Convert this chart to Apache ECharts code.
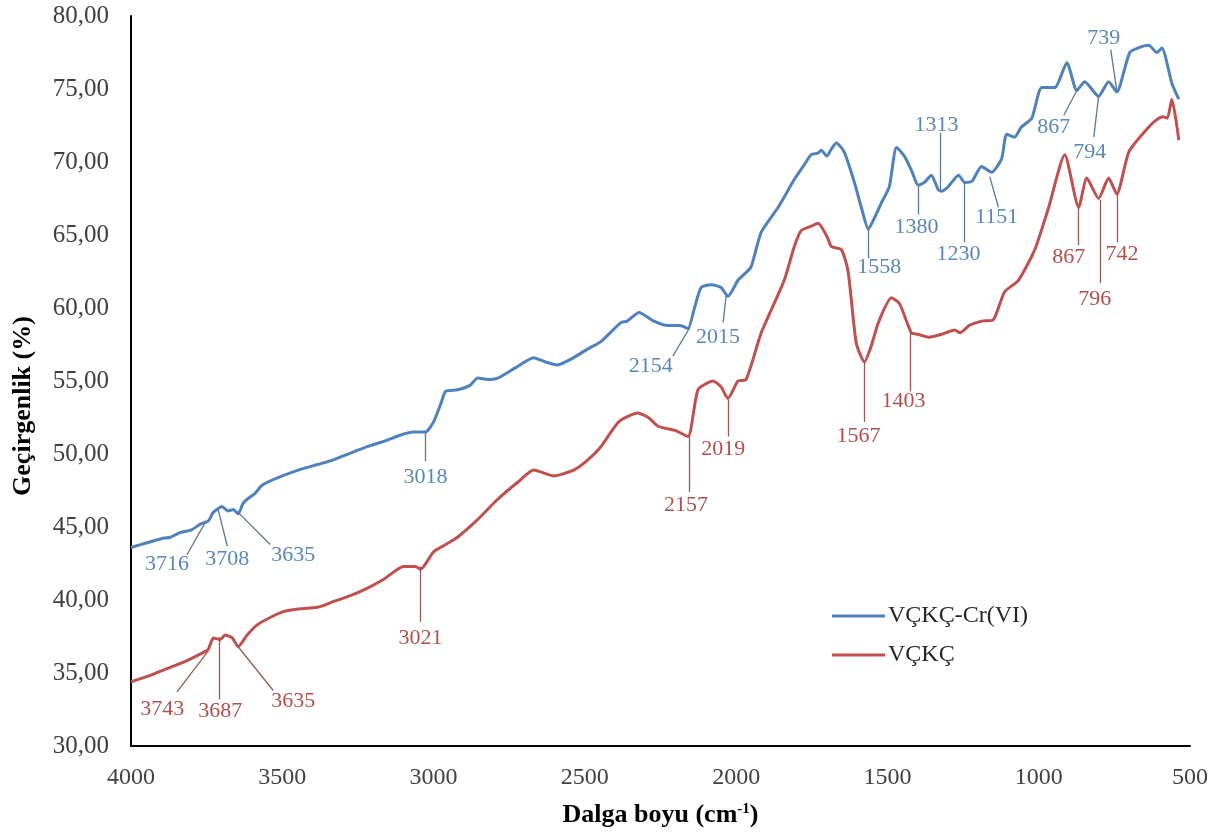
<!DOCTYPE html>
<html>
<head>
<meta charset="utf-8">
<script src="https://cdn.jsdelivr.net/npm/echarts@6/dist/echarts.min.js"></script>
<style>
  html, body { margin: 0; padding: 0; background: #fff; }
  #chart { width: 1225px; height: 836px; }
</style>
</head>
<body>
<div id="chart"></div>
<script>
// FTIR transmittance spectra (wavenumber in cm-1, transmittance in %)
const seriesNames = ['VÇKÇ-Cr(VI)', 'VÇKÇ'];

const crWavenumber = [4000, 3950, 3900, 3870, 3840, 3800, 3771, 3745, 3728, 3699, 3680, 3662, 3646, 3630, 3616, 3590, 3570, 3550, 3500, 3440, 3380, 3331, 3270, 3219, 3160, 3109, 3066, 3027, 3000, 2975, 2960, 2921, 2880, 2854, 2820, 2788, 2730, 2669, 2630, 2590, 2537, 2490, 2447, 2381, 2360, 2321, 2272, 2225, 2185, 2159, 2139, 2116, 2083, 2050, 2027, 1994, 1974, 1951, 1917, 1861, 1808, 1775, 1752, 1730, 1719, 1700, 1685, 1669, 1643, 1609, 1585, 1563, 1540, 1520, 1494, 1470, 1444, 1420, 1398, 1378, 1355, 1332, 1321, 1300, 1265, 1245, 1220, 1189, 1156, 1123, 1106, 1080, 1057, 1023, 990, 947, 907, 874, 848, 802, 769, 742, 699, 660, 636, 610, 593, 560, 537];
const crTransmittance = [43.6, 43.9, 44.2, 44.3, 44.6, 44.8, 45.2, 45.4, 46.0, 46.4, 46.1, 46.2, 45.9, 46.6, 46.9, 47.3, 47.8, 48.05, 48.5, 48.95, 49.3, 49.6, 50.1, 50.5, 50.9, 51.3, 51.5, 51.5, 52.2, 53.5, 54.3, 54.4, 54.7, 55.2, 55.1, 55.2, 55.9, 56.6, 56.3, 56.1, 56.6, 57.2, 57.7, 59.0, 59.1, 59.7, 59.1, 58.8, 58.8, 58.6, 59.9, 61.4, 61.6, 61.4, 60.8, 61.9, 62.3, 62.8, 65.2, 66.9, 68.8, 69.8, 70.5, 70.6, 70.8, 70.4, 70.9, 71.3, 70.7, 68.6, 66.8, 65.4, 66.3, 67.2, 68.3, 71.0, 70.4, 69.4, 68.4, 68.6, 69.1, 68.1, 68.0, 68.3, 69.1, 68.6, 68.7, 69.7, 69.3, 70.2, 71.9, 71.7, 72.4, 73.0, 75.1, 75.1, 76.8, 74.9, 75.5, 74.5, 75.5, 74.8, 77.5, 77.9, 78.0, 77.5, 77.8, 75.4, 74.3];

const rawWavenumber = [4000, 3940, 3881, 3820, 3762, 3745, 3728, 3705, 3689, 3665, 3646, 3616, 3583, 3540, 3497, 3440, 3384, 3330, 3275, 3220, 3166, 3099, 3060, 3043, 3000, 2960, 2921, 2860, 2788, 2720, 2669, 2603, 2537, 2490, 2447, 2388, 2325, 2290, 2258, 2200, 2159, 2126, 2076, 2050, 2027, 1994, 1967, 1917, 1841, 1808, 1785, 1752, 1729, 1700, 1685, 1652, 1630, 1603, 1576, 1555, 1530, 1487, 1460, 1421, 1400, 1364, 1320, 1278, 1260, 1230, 1189, 1150, 1113, 1067, 1013, 967, 914, 868, 841, 802, 769, 742, 702, 636, 610, 590, 575, 560, 537];
const rawTransmittance = [34.4, 34.8, 35.3, 35.8, 36.4, 36.6, 37.4, 37.3, 37.6, 37.4, 36.8, 37.6, 38.3, 38.8, 39.2, 39.4, 39.5, 39.9, 40.3, 40.8, 41.4, 42.3, 42.3, 42.1, 43.3, 43.8, 44.3, 45.4, 46.9, 48.1, 48.9, 48.5, 48.9, 49.6, 50.5, 52.2, 52.8, 52.5, 51.9, 51.6, 51.2, 54.4, 55.0, 54.6, 53.8, 55.0, 55.1, 58.3, 61.9, 64.2, 65.3, 65.6, 65.8, 64.9, 64.2, 64.0, 62.5, 57.6, 56.3, 57.3, 59.0, 60.7, 60.3, 58.3, 58.2, 58.0, 58.2, 58.5, 58.3, 58.8, 59.1, 59.2, 61.1, 61.9, 64.0, 66.9, 70.5, 66.9, 68.9, 67.5, 68.9, 67.8, 70.7, 72.4, 72.9, 73.1, 73.0, 74.3, 71.5];

// Peak callouts: text, point on the curve, end of the leader, label anchor (wavenumber, %)
const crPeakText = ['3716', '3708', '3635', '3018', '2154', '2015', '1558', '1380', '1313', '1230', '1151', '867', '794', '739'];
const crPeakFrom = [[3755, 45.3], [3712, 46.2], [3646, 46.0], [3027, 51.5], [2152, 58.7], [2033, 60.9], [1563, 65.4], [1398, 68.3], [1325, 68.1], [1245, 68.6], [1162, 69.0], [874, 74.9], [802, 74.5], [742, 74.9]];
const crPeakTo = [[3815, 43.1], [3682, 43.7], [3540, 43.8], [3027, 49.5], [2209, 56.7], [2043, 59.0], [1563, 63.4], [1398, 66.4], [1325, 72.0], [1245, 64.5], [1133, 66.9], [917, 73.2], [818, 71.7], [762, 77.7]];
const crPeakLabel = [[3881, 42.45], [3682, 42.8], [3464, 43.1], [3027, 48.4], [2282, 56.0], [2060, 58.0], [1527, 62.8], [1404, 65.5], [1338, 72.5], [1265, 63.7], [1139, 66.2], [950, 72.4], [831, 70.7], [785, 78.5]];

const rawPeakText = ['3743', '3687', '3635', '3021', '2157', '2019', '1567', '1403', '867', '796', '742'];
const rawPeakFrom = [[3745, 36.5], [3709, 37.45], [3646, 36.8], [3043, 42.3], [2156, 51.2], [2027, 53.7], [1576, 56.3], [1424, 58.3], [868, 66.9], [798, 67.4], [742, 67.8]];
const rawPeakTo = [[3848, 33.7], [3709, 33.2], [3530, 33.8], [3043, 38.5], [2156, 47.4], [2027, 51.2], [1576, 52.2], [1424, 54.3], [868, 64.3], [798, 61.7], [742, 64.5]];
const rawPeakLabel = [[3897, 32.5], [3705, 32.4], [3464, 33.1], [3043, 37.4], [2166, 46.5], [2043, 50.3], [1596, 51.2], [1447, 53.6], [901, 63.5], [815, 60.6], [725, 63.7]];

const xTicks = { min: 500, max: 4000, step: 500 };
const yTicks = { min: 30, max: 80, step: 5 };

const FONT = 'Liberation Serif';
const BLUE = '#4F81BD';
const RED = '#C0504D';

function pairs(xs, ys) {
  return xs.map((x, i) => [x, ys[i]]);
}

function leaders(from, to) {
  return from.map((p, i) => [{ coord: p }, { coord: to[i] }]);
}

function callouts(text, pos, color) {
  return text.map((t, i) => ({
    coord: pos[i],
    value: t,
    label: { color: color }
  }));
}

function spectrumSeries(name, xs, ys, color, leaderColor, textColor, pText, pFrom, pTo, pLabel) {
  return {
    name: name,
    type: 'line',
    data: pairs(xs, ys),
    showSymbol: false,
    smooth: 0.2,
    lineStyle: { color: color, width: 3 },
    itemStyle: { color: color },
    z: 3,
    markLine: {
      silent: true,
      symbol: ['none', 'none'],
      label: { show: false },
      lineStyle: { color: leaderColor, width: 1.3, type: 'solid' },
      data: leaders(pFrom, pTo)
    },
    markPoint: {
      silent: true,
      symbol: 'circle',
      symbolSize: 1,
      itemStyle: { color: 'rgba(0,0,0,0)' },
      label: {
        show: true,
        position: 'inside',
        formatter: p => p.value,
        fontFamily: FONT,
        fontSize: 22,
        color: textColor
      },
      data: callouts(pText, pLabel, textColor)
    }
  };
}

const chart = echarts.init(document.getElementById('chart'), null, { renderer: 'canvas' });

chart.setOption({
  animation: false,
  backgroundColor: '#ffffff',
  grid: { left: 131, right: 35, top: 16, bottom: 90, containLabel: false },
  legend: {
    orient: 'vertical',
    left: 827,
    top: 599,
    itemWidth: 53,
    itemHeight: 3,
    itemGap: 15,
    icon: 'rect',
    textStyle: { fontFamily: FONT, fontSize: 24, color: '#262626', padding: [0, 0, 0, -2] },
    data: seriesNames
  },
  // vertical axis title, placed a little below the plot's mid-height
  graphic: [{
    type: 'text',
    x: 23,
    y: 406,
    rotation: Math.PI / 2,
    style: {
      text: 'Geçirgenlik (%)',
      font: 'bold 26px "Liberation Serif"',
      fill: '#000',
      textAlign: 'center',
      textVerticalAlign: 'middle'
    }
  }],
  xAxis: {
    type: 'value',
    inverse: true,
    min: xTicks.min,
    max: xTicks.max,
    interval: xTicks.step,
    name: 'Dalga boyu (cm{sup|-1})',
    nameLocation: 'middle',
    nameGap: 56,
    nameTextStyle: {
      fontFamily: FONT, fontSize: 26, fontWeight: 'bold', color: '#000',
      rich: { sup: { fontFamily: FONT, fontSize: 15, fontWeight: 'bold', color: '#000', verticalAlign: 'top', padding: [0, 0, 12, 0] } }
    },
    axisLine: { show: true, lineStyle: { color: '#000', width: 2 } },
    axisTick: { show: false },
    splitLine: { show: false },
    axisLabel: { fontFamily: FONT, fontSize: 24, color: '#404040', margin: 20, formatter: v => String(v) }
  },
  yAxis: {
    type: 'value',
    min: yTicks.min,
    max: yTicks.max,
    interval: yTicks.step,
    axisLine: { show: true, lineStyle: { color: '#000', width: 2 } },
    axisTick: { show: false },
    splitLine: { show: false },
    axisLabel: {
      fontFamily: FONT, fontSize: 25, color: '#404040', margin: 22,
      formatter: v => v.toFixed(2).replace('.', ',')
    }
  },
  series: [
    spectrumSeries(seriesNames[0], crWavenumber, crTransmittance, BLUE, '#5d7796', '#5b86b8',
      crPeakText, crPeakFrom, crPeakTo, crPeakLabel),
    spectrumSeries(seriesNames[1], rawWavenumber, rawTransmittance, RED, '#9a5a5a', '#b0504c',
      rawPeakText, rawPeakFrom, rawPeakTo, rawPeakLabel)
  ]
});
</script>
</body>
</html>
